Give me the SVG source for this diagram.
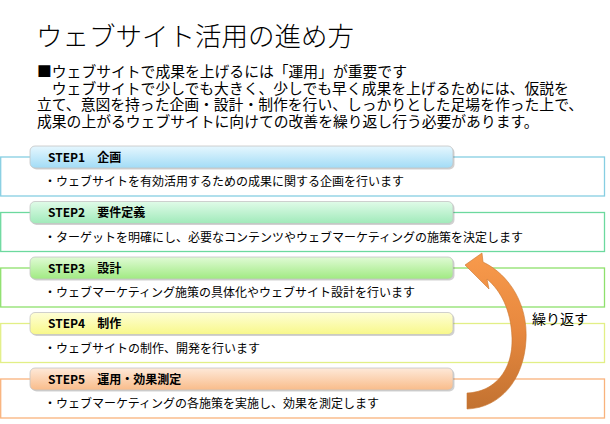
<svg xmlns="http://www.w3.org/2000/svg" width="610" height="424" viewBox="0 0 610 424">
<style>
text{font-family:"Noto Sans CJK JP","Noto Sans",sans-serif;fill:#000}
.title{font-size:26.5px;font-weight:300}
.body{font-size:14.8px}
.hd{font-size:12px;font-weight:bold}
.ds{font-size:12px}
.outer{fill:#fff;stroke-width:1.3}
.shadow{fill:#000;opacity:0.18}
.hdr{stroke:#c4c4c4;stroke-width:0.8}
</style>
<defs>
<linearGradient id="g1" x1="0" y1="0" x2="0" y2="1"><stop offset="0" stop-color="#e6f7fe"/><stop offset="1" stop-color="#a2dcf6"/></linearGradient>
<linearGradient id="g2" x1="0" y1="0" x2="0" y2="1"><stop offset="0" stop-color="#e0fbe8"/><stop offset="1" stop-color="#a0eaba"/></linearGradient>
<linearGradient id="g3" x1="0" y1="0" x2="0" y2="1"><stop offset="0" stop-color="#e0fbd5"/><stop offset="1" stop-color="#a0ea82"/></linearGradient>
<linearGradient id="g4" x1="0" y1="0" x2="0" y2="1"><stop offset="0" stop-color="#fefed6"/><stop offset="1" stop-color="#f8f88a"/></linearGradient>
<linearGradient id="g5" x1="0" y1="0" x2="0" y2="1"><stop offset="0" stop-color="#fee9d9"/><stop offset="1" stop-color="#f9bc8a"/></linearGradient>
<linearGradient id="ga" x1="0" y1="0" x2="0" y2="1"><stop offset="0" stop-color="#f89a4c"/><stop offset="0.5" stop-color="#e7883e"/><stop offset="1" stop-color="#c27231"/></linearGradient>
</defs>

<g id="heading">
<text class="title" x="36" y="46">ウェブサイト活用の進め方</text>
<text class="body" x="37" y="77">■ウェブサイトで成果を上げるには「運用」が重要です</text>
<text class="body" x="37" y="93.5">　ウェブサイトで少しでも大きく、少しでも早く成果を上げるためには、仮説を</text>
<text class="body" x="37" y="110">立て、意図を持った企画・設計・制作を行い、しっかりとした足場を作った上で、</text>
<text class="body" x="37" y="126.5">成果の上がるウェブサイトに向けての改善を繰り返し行う必要があります。</text>
</g>

<g id="step1">
<rect class="outer" x="0.7" y="157" width="603.8" height="39" stroke="#86cee2"/>
<rect class="shadow" x="31.5" y="147.5" width="423" height="22" rx="5"/>
<rect class="hdr" x="30" y="146" width="423" height="22" rx="5" fill="url(#g1)"/>
<text class="hd" x="48" y="161.5">STEP1　企画</text>
<text class="ds" x="44" y="186">・ウェブサイトを有効活用するための成果に関する企画を行います</text>
</g>

<g id="step2" transform="translate(0,55.5)">
<rect class="outer" x="0.7" y="157" width="603.8" height="39" stroke="#6cd99e"/>
<rect class="shadow" x="31.5" y="147.5" width="423" height="22" rx="5"/>
<rect class="hdr" x="30" y="146" width="423" height="22" rx="5" fill="url(#g2)"/>
<text class="hd" x="48" y="161.5">STEP2　要件定義</text>
<text class="ds" x="44" y="186">・ターゲットを明確にし、必要なコンテンツやウェブマーケティングの施策を決定します</text>
</g>

<g id="step3" transform="translate(0,111)">
<rect class="outer" x="0.7" y="157" width="603.8" height="39" stroke="#8ee06c"/>
<rect class="shadow" x="31.5" y="147.5" width="423" height="22" rx="5"/>
<rect class="hdr" x="30" y="146" width="423" height="22" rx="5" fill="url(#g3)"/>
<text class="hd" x="48" y="161.5">STEP3　設計</text>
<text class="ds" x="44" y="186">・ウェブマーケティング施策の具体化やウェブサイト設計を行います</text>
</g>

<g id="step4" transform="translate(0,166.5)">
<rect class="outer" x="0.7" y="157" width="603.8" height="39" stroke="#e2ef86"/>
<rect class="shadow" x="31.5" y="147.5" width="423" height="22" rx="5"/>
<rect class="hdr" x="30" y="146" width="423" height="22" rx="5" fill="url(#g4)"/>
<text class="hd" x="48" y="161.5">STEP4　制作</text>
<text class="ds" x="44" y="186">・ウェブサイトの制作、開発を行います</text>
</g>

<g id="step5" transform="translate(0,222)">
<rect class="outer" x="0.7" y="157" width="603.8" height="39" stroke="#f9b27c"/>
<rect class="shadow" x="31.5" y="147.5" width="423" height="22" rx="5"/>
<rect class="hdr" x="30" y="146" width="423" height="22" rx="5" fill="url(#g5)"/>
<text class="hd" x="48" y="161.5">STEP5　運用・効果測定</text>
<text class="ds" x="44" y="186">・ウェブマーケティングの各施策を実施し、効果を測定します</text>
</g>

<g id="connectors">
<path d="M465 265 L482 253 L483 262 C510 275 528 305 526 340 C524 380 500 408 467 409 L467 393 C495 392 513 370 512 338 C511 310 501 291 487 279 L489 289 Z" fill="url(#ga)" stroke="#c9752f" stroke-width="0.6"/>
<text x="532" y="324" style="font-size:14px">繰り返す</text>
</g>
</svg>
